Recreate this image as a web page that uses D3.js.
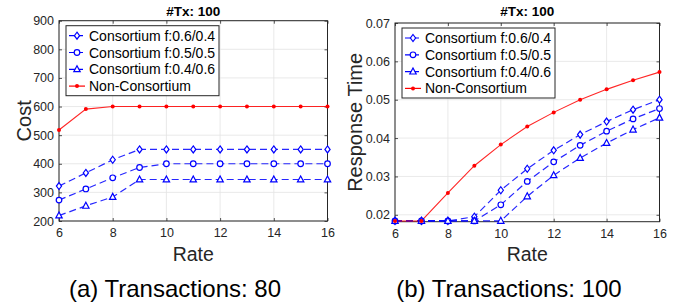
<!DOCTYPE html>
<html><head><meta charset="utf-8">
<script src="https://cdn.jsdelivr.net/npm/d3@7/dist/d3.min.js"></script>
<style>body{margin:0;background:#fff}svg{display:block}text{font-family:"Liberation Sans",Arial,sans-serif}</style>
</head><body><svg id="c" width="673" height="305"></svg>
<script>
const rates = [6,7,8,9,10,11,12,13,14,15,16];
const seriesNames = ["Consortium f:0.6/0.4","Consortium f:0.5/0.5","Consortium f:0.4/0.6","Non-Consortium"];
// (a) cost
const costF64 = [322,368,414,450,450,450,450,450,450,450,450];
const costF55 = [273,312,351,387,400,400,400,400,400,400,400];
const costF46 = [219,253,284,345,345,345,345,345,345,345,345];
const costNon = [518,591,600,600,600,600,600,600,600,600,600];
// (b) response time
const rtF64 = [0.0184,0.0184,0.0184,0.0195,0.0264,0.0320,0.0368,0.0409,0.0443,0.0474,0.0500];
const rtF55 = [0.0184,0.0184,0.0184,0.0184,0.0226,0.0287,0.0338,0.0381,0.0418,0.0450,0.0477];
const rtF46 = [0.0184,0.0184,0.0184,0.0184,0.0184,0.0248,0.0303,0.0348,0.0387,0.0422,0.0453];
const rtNon = [0.0184,0.0184,0.0257,0.0328,0.0383,0.0430,0.0467,0.0500,0.0527,0.0551,0.0572];
const xTicks = [6,8,10,12,14,16];
const costTicks = [200,300,400,500,600,700,800,900];
const rtTicks = [0.02,0.03,0.04,0.05,0.06,0.07];
const titles = ["#Tx: 100","#Tx: 100"];
const captions = ["(a) Transactions: 80","(b) Transactions: 100"];
const yLabels = ["Cost","Response Time"];

const svg = d3.select("#c");
const AX = "#262626";
const markers = ["diamond","circle","triangle","dot"];

function marker(g, type, x, y){
  if(type==="diamond"){
    g.append("path").attr("d",`M${x},${y-3.5}L${x+2.6},${y}L${x},${y+3.5}L${x-2.6},${y}Z`)
     .attr("fill","#fff").attr("stroke","#0000ff").attr("stroke-width",1.2);
  } else if(type==="circle"){
    g.append("circle").attr("cx",x).attr("cy",y).attr("r",2.8)
     .attr("fill","#fff").attr("stroke","#0000ff").attr("stroke-width",1.2);
  } else if(type==="triangle"){
    g.append("path").attr("d",`M${x},${y-3.6}L${x+3.2},${y+2.4}L${x-3.2},${y+2.4}Z`)
     .attr("fill","#fff").attr("stroke","#0000ff").attr("stroke-width",1.2);
  } else {
    g.append("circle").attr("cx",x).attr("cy",y).attr("r",2)
     .attr("fill","#ff0000");
  }
}

function panel(cfg){
  const {x0,x1,y0,y1,yDomain,yTicks,yFmt,data,title,caption,ylabel,ylx} = cfg;
  const g = svg.append("g");
  const x = d3.scaleLinear().domain([6,16]).range([x0,x1]);
  const y = d3.scaleLinear().domain(yDomain).range([y1,y0]);
  // grid
  g.selectAll(".gx").data(xTicks).join("line")
   .attr("x1",d=>x(d)).attr("x2",d=>x(d)).attr("y1",y0).attr("y2",y1)
   .attr("stroke","#e3e3e3").attr("stroke-width",0.8);
  g.selectAll(".gy").data(yTicks).join("line")
   .attr("y1",d=>y(d)).attr("y2",d=>y(d)).attr("x1",x0).attr("x2",x1)
   .attr("stroke","#e3e3e3").attr("stroke-width",0.8);
  // axes via d3
  const bottom = g.append("g").attr("transform",`translate(0,${y1})`)
    .call(d3.axisBottom(x).tickValues(xTicks).tickSize(-3).tickPadding(7).tickFormat(d3.format("d")));
  const top = g.append("g").attr("transform",`translate(0,${y0})`)
    .call(d3.axisTop(x).tickValues(xTicks).tickSize(-3).tickFormat(""));
  const left = g.append("g").attr("transform",`translate(${x0},0)`)
    .call(d3.axisLeft(y).tickValues(yTicks).tickSize(-3).tickPadding(5).tickFormat(yFmt));
  const right = g.append("g").attr("transform",`translate(${x1},0)`)
    .call(d3.axisRight(y).tickValues(yTicks).tickSize(-3).tickFormat(""));
  [bottom,top,left,right].forEach(a=>{
    a.select(".domain").remove();
    a.selectAll("line").attr("stroke",AX).attr("stroke-width",0.8);
    a.selectAll("text").attr("fill",AX).style("font-size","12.5px").style("font-family","'Liberation Sans',Arial,sans-serif");
  });
  g.append("rect").attr("x",x0).attr("y",y0).attr("width",x1-x0).attr("height",y1-y0)
   .attr("fill","none").attr("stroke",AX).attr("stroke-width",1);

  // lines
  const line = d3.line().x((d,i)=>x(rates[i])).y(d=>y(d));
  data.forEach((s,k)=>{
    const isRed = k===3;
    g.append("path").attr("d",line(s)).attr("fill","none")
     .attr("stroke",isRed?"#ff0000":"#0000ff").attr("stroke-width",isRed?1.1:1.2)
     .attr("stroke-dasharray",isRed?null:"7,4").attr("opacity",0.85);
  });
  data.forEach((s,k)=>{
    s.forEach((v,i)=>marker(g,markers[k],x(rates[i]),y(v)));
  });

  // legend
  const lx = x0+7, ly = y0+5;
  g.append("rect").attr("x",lx).attr("y",ly).attr("width",153).attr("height",70)
   .attr("fill","#fff").attr("stroke",AX).attr("stroke-width",1);
  seriesNames.forEach((n,k)=>{
    const ry = ly+10+k*16.8;
    const isRed = k===3;
    g.append("line").attr("x1",lx+3).attr("x2",lx+19).attr("y1",ry).attr("y2",ry)
     .attr("stroke",isRed?"#ff0000":"#0000ff").attr("stroke-width",1.2)
     .attr("stroke-dasharray",isRed?null:"6,2");
    marker(g,markers[k],lx+11,ry);
    g.append("text").attr("x",lx+23).attr("y",ry+5).text(n)
     .style("font-size","14px").attr("fill","#000");
  });

  // title
  g.append("text").attr("x",(x0+x1)/2).attr("y",16).attr("text-anchor","middle")
   .style("font-size","13.5px").style("font-weight","bold").attr("fill","#000").text(title);
  // x label
  g.append("text").attr("x",(x0+x1)/2).attr("y",261).attr("text-anchor","middle")
   .style("font-size","19.5px").attr("fill",AX).text("Rate");
  // y label
  g.append("text").attr("transform",`translate(${ylx},${(y0+y1)/2}) rotate(-90)`)
   .attr("text-anchor","middle").style("font-size","20px").attr("fill",AX).text(ylabel);
  // caption
  g.append("text").attr("x",cfg.capx).attr("y",297).attr("text-anchor","middle")
   .style("font-size","24px").attr("fill","#000").text(caption);
}

panel({x0:59,x1:327.5,y0:20.7,y1:221,yDomain:[200,900],yTicks:costTicks,yFmt:d3.format("d"),
  data:[costF64,costF55,costF46,costNon],title:titles[0],caption:captions[0],ylabel:yLabels[0],ylx:31,capx:175});
panel({x0:395,x1:659.5,y0:23,y1:221.7,yDomain:[0.0182,0.07],yTicks:rtTicks,yFmt:d3.format(".2f"),
  data:[rtF64,rtF55,rtF46,rtNon],title:titles[1],caption:captions[1],ylabel:yLabels[1],ylx:362,capx:509});
</script></body></html>
